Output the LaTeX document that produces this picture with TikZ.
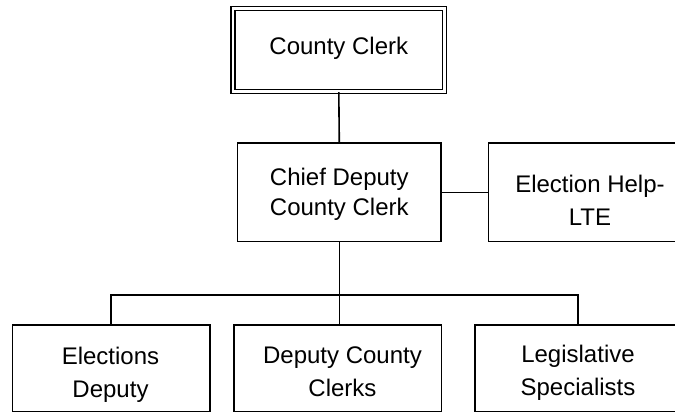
\documentclass[tikz,border=0pt]{standalone}
\usepackage{fontspec}
\setmainfont{Liberation Sans}
\begin{document}
\begin{tikzpicture}[x=1pt,y=-1pt,
  box/.style={draw, line width=1.6pt, rectangle, inner sep=0pt},
  dbox/.style={draw, line width=1.4pt, double, double distance=2.6pt, rectangle, inner sep=0pt},
  conn/.style={line width=1.6pt},
  txt/.style={inner sep=0pt, align=center, font=\fontsize{24}{#1}\selectfont},
  txt/.default=33]
\useasboundingbox (0,0) rectangle (675,414);
\clip (0,0) rectangle (675,414);
% boxes
\node[dbox, minimum width=211.5pt, minimum height=83.2pt] (cc) at (338.8,49.9) {};
\node[box, minimum width=203.3pt, minimum height=98.4pt] (chief) at (339.3,192.5) {};
\node[box, minimum width=203.3pt, minimum height=98.4pt] (lte) at (590,192.5) {};
\node[box, minimum width=197.7pt, minimum height=86.7pt] (ed) at (111.2,368.3) {};
\node[box, minimum width=207.7pt, minimum height=86.7pt] (dc) at (337.8,368.3) {};
\node[box, minimum width=206pt, minimum height=86.7pt] (ls) at (578,368.3) {};
% texts
\node[txt, anchor=north] (cct) at (338.8,36.7) {County Clerk};
\node[txt=30, anchor=north] (chieft) at (339.3,167.7) {Chief Deputy\\County Clerk};
\node[txt, anchor=north] (ltet) at (590,174.7) {Election Help-\\LTE};
\node[txt, anchor=north] (edt) at (110.5,346.7) {Elections\\Deputy};
\node[txt, anchor=north] (dct) at (342.5,346.7) {Deputy County\\Clerks};
\node[txt, anchor=north] (lst) at (578,344.7) {Legislative\\Specialists};
% connectors
\coordinate (bar) at (339.3,295);
\draw[conn] (cc.south) -- (chief.north);
\draw[conn] (chief.east) -- (lte.west);
\draw[conn] (chief.south) -- (chief.south |- dc.north);
\draw[conn] (ed.north) |- (bar) -| (ls.north);
\end{tikzpicture}
\end{document}
